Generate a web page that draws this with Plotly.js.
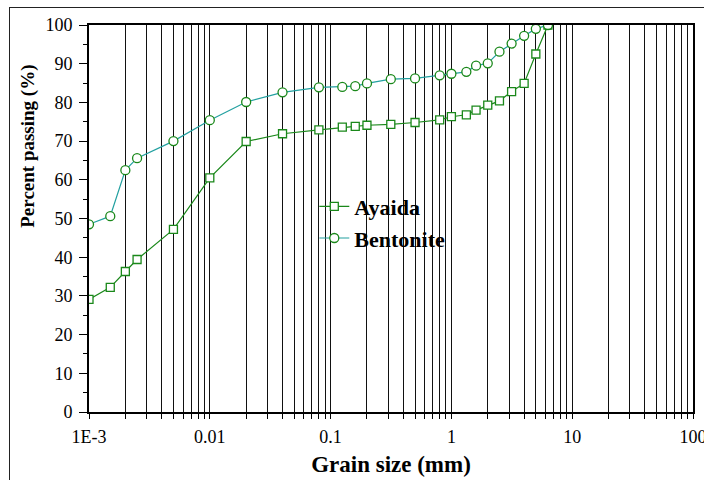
<!DOCTYPE html>
<html><head><meta charset="utf-8">
<script src="https://cdn.plot.ly/plotly-3.0.1.min.js"></script>
<style>
html,body{margin:0;padding:0;background:#fff;width:704px;height:480px;overflow:hidden;}
#frame{position:absolute;left:9px;top:7px;width:800px;height:600px;border:1px solid #222;}
#chart{position:absolute;left:0;top:0;width:704px;height:480px;}
</style></head><body>
<div id="frame"></div><div id="chart"></div>
<script>
// Grain size (mm)
const grainSize = [0.001, 0.0015, 0.002, 0.0025, 0.005, 0.01, 0.02, 0.04, 0.08, 0.125, 0.16, 0.2, 0.315, 0.5, 0.8, 1, 1.33, 1.6, 2, 2.5, 3.15, 4, 5, 6.3];
// Percent passing (%)
const ayaida    = [29.1, 32.2, 36.3, 39.4, 47.2, 60.5, 69.9, 71.9, 72.9, 73.6, 73.8, 74.1, 74.3, 74.8, 75.5, 76.3, 76.8, 78.0, 79.3, 80.4, 82.8, 84.9, 92.5, 100];
const bentonite = [48.5, 50.6, 62.5, 65.6, 70.0, 75.4, 80.1, 82.6, 83.9, 84.0, 84.2, 84.9, 86.0, 86.2, 87.0, 87.4, 87.9, 89.5, 90.1, 93.1, 95.2, 97.2, 99.0, 100];
const seriesNames = ['Ayaida', 'Bentonite'];
const xTickVals = [0.001, 0.01, 0.1, 1, 10, 100];
const xTickText = ['1E-3', '0.01', '0.1', '1', '10', '100'];

const minorVals = [];
for (let d = -3; d <= 1; d++) for (let k = 2; k <= 9; k++) minorVals.push(k * Math.pow(10, d));

const FONT = '"Times New Roman", "Liberation Serif", "DejaVu Serif", serif';
const green = '#1a881a';
const teal = '#22a0a0';

const traces = [
  {x: grainSize, y: ayaida, name: seriesNames[0], type: 'scatter', mode: 'lines+markers',
   line: {color: green, width: 1.2},
   marker: {symbol: 'square', size: 8, color: '#fff', line: {color: green, width: 1.3}}},
  {x: grainSize, y: bentonite, name: seriesNames[1], type: 'scatter', mode: 'lines+markers',
   line: {color: teal, width: 1.2},
   marker: {symbol: 'circle', size: 9, color: '#fff', line: {color: green, width: 1.3}}}
];

const layout = {
  width: 704, height: 480,
  margin: {l: 89, r: 11, t: 25, b: 68},
  paper_bgcolor: 'rgba(0,0,0,0)', plot_bgcolor: '#fff',
  font: {family: FONT, color: '#000'},
  showlegend: true,
  legend: {x: 0.373, y: 0.585, xanchor: 'left', yanchor: 'top', bgcolor: 'rgba(0,0,0,0)',
           font: {family: FONT, size: 22, weight: 'bold', color: '#000'}, tracegroupgap: 0},
  xaxis: {
    type: 'log', range: [-3, 2], tickmode: 'array', tickvals: xTickVals, ticktext: xTickText,
    ticks: 'outside', ticklen: 5, tickwidth: 1, tickcolor: '#000',
    showline: true, linewidth: 2, linecolor: '#000', mirror: true, zeroline: false,
    showgrid: true, gridcolor: '#111', gridwidth: 1,
    minor: {tickmode: 'array', tickvals: minorVals, ticks: 'outside', ticklen: 5, tickwidth: 1, tickcolor: '#000',
            showgrid: true, gridcolor: '#111', gridwidth: 1},
    tickfont: {family: FONT, size: 18, color: '#000'}, ticklabelstandoff: 2, ticklabeloverflow: 'allow',
    title: {text: '<b>Grain size (mm)</b>', font: {family: FONT, size: 23, color: '#000'}, standoff: 10}
  },
  yaxis: {
    range: [0, 100], tick0: 0, dtick: 10, ticks: 'outside', ticklen: 8, tickwidth: 1, tickcolor: '#000',
    showline: true, linewidth: 2, linecolor: '#000', mirror: true, zeroline: false, showgrid: false,
    minor: {dtick: 5, ticks: 'outside', ticklen: 4, tickwidth: 1, tickcolor: '#000', showgrid: false},
    tickfont: {family: FONT, size: 18, color: '#000'}, ticklabelstandoff: 3
  },
  annotations: [{text: '<b>Percent passing (%)</b>', textangle: -90, xref: 'paper', yref: 'paper',
                 x: -0.1, y: 0.687, xanchor: 'center', yanchor: 'middle', showarrow: false,
                 font: {family: FONT, size: 19, color: '#000'}}]
};

Plotly.newPlot('chart', traces, layout, {displayModeBar: false, staticPlot: true});
</script>
</body></html>
